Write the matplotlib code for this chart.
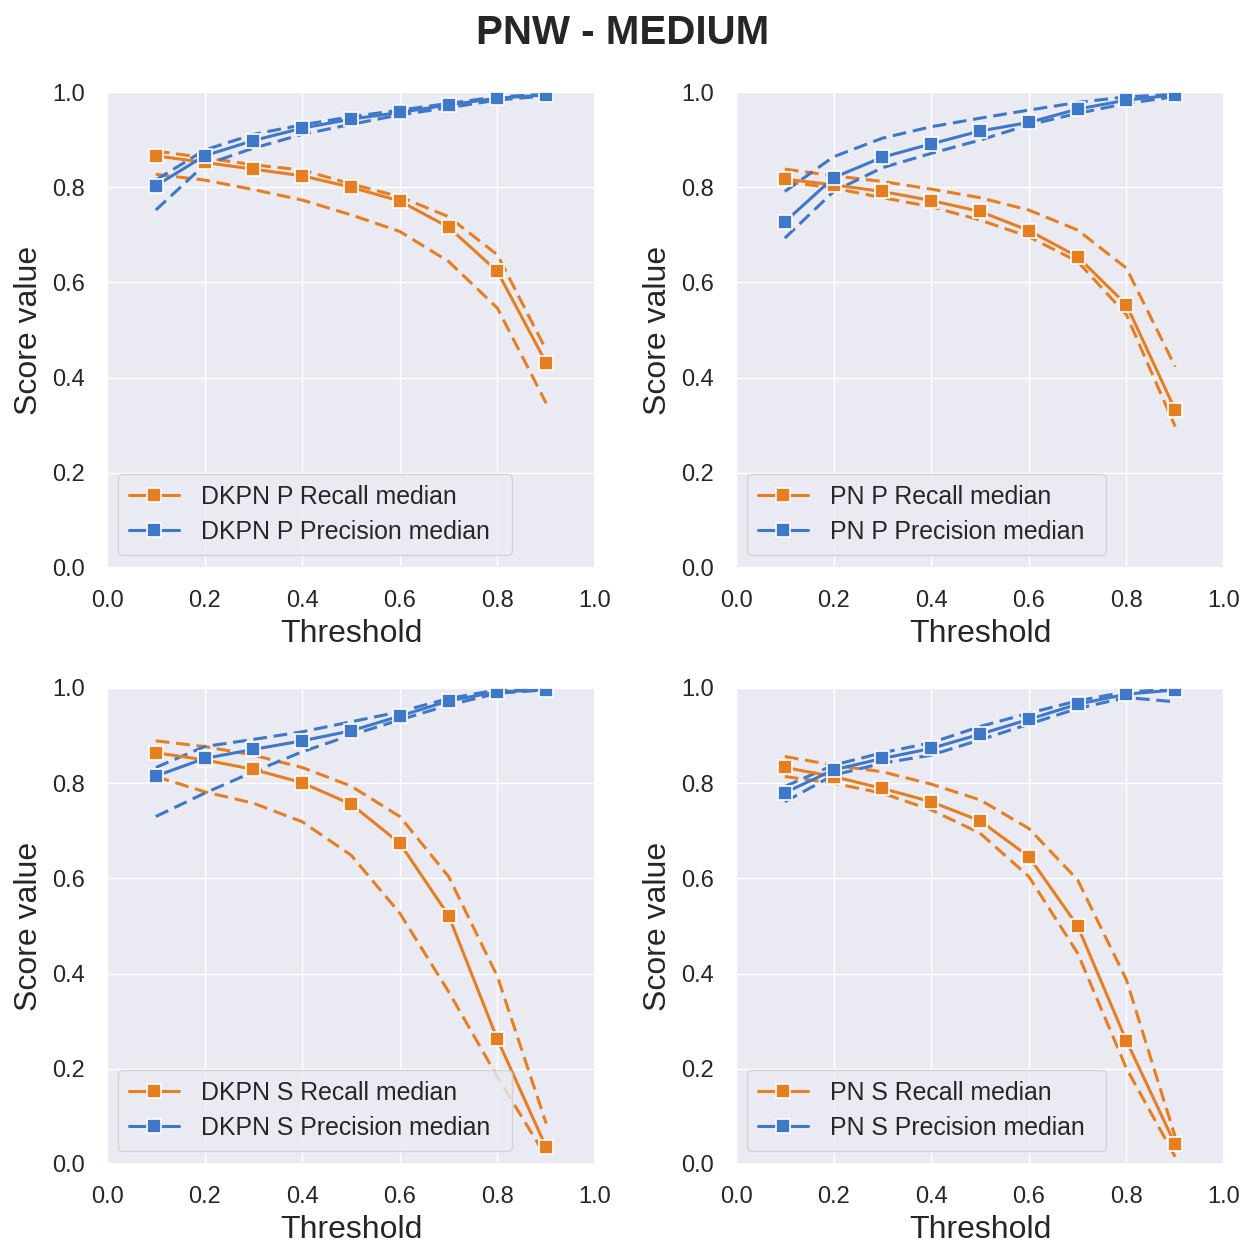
import numpy as np
import matplotlib
matplotlib.use("Agg")
import matplotlib.pyplot as plt
import seaborn as sns

sns.set_theme(style="darkgrid")
plt.rcParams["font.family"] = ["Liberation Sans", "DejaVu Sans"]

thresholds = [0.1, 0.2, 0.3, 0.4, 0.5, 0.6, 0.7, 0.8, 0.9]

# DKPN P
dkpn_p_recall_med = [0.866, 0.852, 0.838, 0.824, 0.800, 0.771, 0.716, 0.623, 0.431]
dkpn_p_recall_hi = [0.876, 0.862, 0.847, 0.836, 0.807, 0.780, 0.738, 0.658, 0.458]
dkpn_p_recall_lo = [0.827, 0.815, 0.795, 0.773, 0.742, 0.707, 0.644, 0.546, 0.346]
dkpn_p_prec_med = [0.803, 0.866, 0.898, 0.924, 0.943, 0.957, 0.973, 0.987, 0.994]
dkpn_p_prec_hi = [0.815, 0.878, 0.911, 0.931, 0.948, 0.962, 0.976, 0.990, 0.995]
dkpn_p_prec_lo = [0.752, 0.847, 0.882, 0.911, 0.932, 0.952, 0.967, 0.983, 0.992]

# PN P
pn_p_recall_med = [0.817, 0.805, 0.791, 0.772, 0.749, 0.709, 0.654, 0.553, 0.332]
pn_p_recall_hi = [0.838, 0.824, 0.812, 0.796, 0.778, 0.752, 0.710, 0.630, 0.423]
pn_p_recall_lo = [0.812, 0.798, 0.778, 0.759, 0.731, 0.696, 0.644, 0.532, 0.297]
pn_p_prec_med = [0.727, 0.820, 0.863, 0.891, 0.918, 0.936, 0.964, 0.983, 0.994]
pn_p_prec_hi = [0.791, 0.864, 0.903, 0.927, 0.945, 0.962, 0.978, 0.990, 0.995]
pn_p_prec_lo = [0.693, 0.791, 0.841, 0.871, 0.899, 0.931, 0.955, 0.976, 0.990]

# DKPN S
dkpn_s_recall_med = [0.864, 0.849, 0.829, 0.801, 0.756, 0.674, 0.522, 0.262, 0.035]
dkpn_s_recall_hi = [0.889, 0.877, 0.859, 0.833, 0.794, 0.730, 0.604, 0.394, 0.085]
dkpn_s_recall_lo = [0.814, 0.782, 0.758, 0.719, 0.649, 0.527, 0.362, 0.183, 0.015]
dkpn_s_prec_med = [0.815, 0.852, 0.871, 0.889, 0.910, 0.941, 0.973, 0.992, 0.996]
dkpn_s_prec_hi = [0.833, 0.877, 0.892, 0.908, 0.929, 0.950, 0.978, 0.996, 0.997]
dkpn_s_prec_lo = [0.730, 0.779, 0.824, 0.866, 0.901, 0.933, 0.964, 0.989, 0.996]

# PN S
pn_s_recall_med = [0.833, 0.814, 0.789, 0.761, 0.721, 0.646, 0.500, 0.259, 0.041]
pn_s_recall_hi = [0.856, 0.838, 0.824, 0.798, 0.765, 0.705, 0.597, 0.387, 0.057]
pn_s_recall_lo = [0.814, 0.800, 0.779, 0.744, 0.695, 0.604, 0.443, 0.201, 0.015]
pn_s_prec_med = [0.780, 0.828, 0.852, 0.873, 0.903, 0.934, 0.966, 0.987, 0.996]
pn_s_prec_hi = [0.793, 0.838, 0.864, 0.885, 0.919, 0.947, 0.973, 0.992, 0.997]
pn_s_prec_lo = [0.761, 0.817, 0.842, 0.859, 0.891, 0.924, 0.957, 0.980, 0.971]

panels = [
    ("DKPN P", dkpn_p_recall_med, dkpn_p_recall_hi, dkpn_p_recall_lo,
     dkpn_p_prec_med, dkpn_p_prec_hi, dkpn_p_prec_lo),
    ("PN P", pn_p_recall_med, pn_p_recall_hi, pn_p_recall_lo,
     pn_p_prec_med, pn_p_prec_hi, pn_p_prec_lo),
    ("DKPN S", dkpn_s_recall_med, dkpn_s_recall_hi, dkpn_s_recall_lo,
     dkpn_s_prec_med, dkpn_s_prec_hi, dkpn_s_prec_lo),
    ("PN S", pn_s_recall_med, pn_s_recall_hi, pn_s_recall_lo,
     pn_s_prec_med, pn_s_prec_hi, pn_s_prec_lo),
]

recall_color = "#e67e22"
precision_color = "#3f78c9"
ticks = [0.0, 0.2, 0.4, 0.6, 0.8, 1.0]

fig = plt.figure(figsize=(12.46, 12.43), dpi=100)
W, H = 1246, 1243
positions = [(107, 92), (736, 92), (107, 688), (736, 688)]
aw, ah = 488, 476
# legend box width (axes fraction) per panel
legend_widths = [0.807, 0.736, 0.807, 0.736]

for (name, r_med, r_hi, r_lo, p_med, p_hi, p_lo), (px, py), lw in zip(
        panels, positions, legend_widths):
    ax = fig.add_axes([px / W, 1 - (py + ah) / H, aw / W, ah / H])
    dash = dict(linestyle=(0, (4.5, 2.2)), linewidth=2.2)
    ax.plot(thresholds, r_hi, color=recall_color, **dash)
    ax.plot(thresholds, r_lo, color=recall_color, **dash)
    ax.plot(thresholds, p_hi, color=precision_color, **dash)
    ax.plot(thresholds, p_lo, color=precision_color, **dash)
    mk = dict(marker="s", markersize=10, markeredgecolor="white",
              markeredgewidth=1.2, linewidth=2.2)
    ax.plot(thresholds, r_med, color=recall_color,
            label=f"{name} Recall median", **mk)
    ax.plot(thresholds, p_med, color=precision_color,
            label=f"{name} Precision median", **mk)
    ax.set_xlim(0, 1)
    ax.set_ylim(0, 1)
    ax.set_xticks(ticks)
    ax.set_yticks(ticks)
    ax.set_xticklabels([f"{t:.1f}" for t in ticks])
    ax.set_yticklabels([f"{t:.1f}" for t in ticks])
    ax.tick_params(labelsize=17)
    ax.tick_params(axis="x", pad=10)
    ax.tick_params(axis="y", pad=10)
    ax.set_xlabel("Threshold", fontsize=23, labelpad=5)
    ax.set_ylabel("Score value", fontsize=23, labelpad=6)
    leg = ax.legend(loc="lower left", bbox_to_anchor=(0.0225, 0.027, lw, 0.2),
                    mode="expand", borderaxespad=0.0,
                    fontsize=17.9, framealpha=0.8,
                    handlelength=2.0, borderpad=0.45,
                    labelspacing=0.45, handletextpad=0.9)
    leg.get_frame().set_edgecolor("#cccccc")

fig.suptitle("PNW - MEDIUM", fontsize=29, fontweight="bold",
             color="#262626", y=0.989, va="top")

fig.savefig("out.png", dpi=100)
